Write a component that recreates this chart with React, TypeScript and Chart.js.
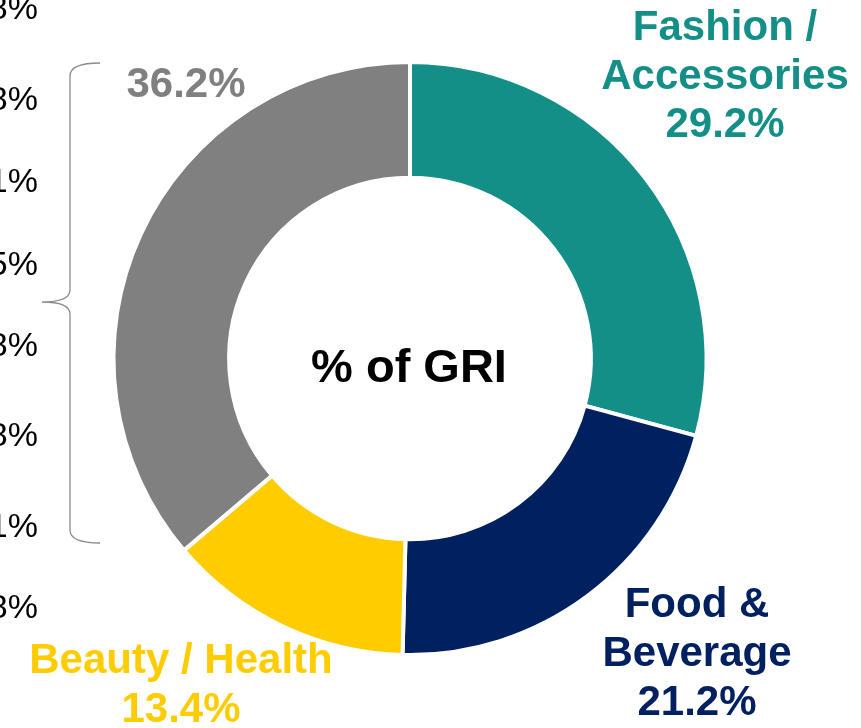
import React, { useEffect, useRef } from "react";
import { Chart, registerables } from "chart.js";

Chart.register(...registerables);

const categories = ["Fashion / Accessories", "Food & Beverage", "Beauty / Health", "Other"];
const values = [29.2, 21.2, 13.4, 36.2];
const sliceColors = ["#148F88", "#002060", "#FFCC00", "#808080"];
const centerTitle = "% of GRI";
const fashionLines = ["Fashion /", "Accessories", "29.2%"];
const foodLines = ["Food &", "Beverage", "21.2%"];
const beautyLines = ["Beauty / Health", "13.4%"];
const otherLines = ["36.2%"];
const sideLabels = ["8%", "8%", "1%", "5%", "8%", "8%", "1%", "8%"];
const sideLabelY = [10, 101, 183, 266, 347, 437, 528, 609];

const labelPlugin = {
  id: "labelPlugin",
  afterDraw(chart: any) {
    const ctx = chart.ctx as CanvasRenderingContext2D;
    ctx.save();
    const font = "bold 42px 'Liberation Sans', Arial, sans-serif";
    const drawLines = (lines: string[], x: number, y0: number, step: number, color: string) => {
      ctx.font = font;
      ctx.fillStyle = color;
      ctx.textAlign = "center";
      ctx.textBaseline = "alphabetic";
      lines.forEach((t, i) => ctx.fillText(t, x, y0 + i * step));
    };
    drawLines(fashionLines, 725, 40, 48.5, sliceColors[0]);
    drawLines(foodLines, 697, 617, 49, sliceColors[1]);
    drawLines(beautyLines, 181, 673, 49, sliceColors[2]);
    drawLines(otherLines, 186, 97, 48, sliceColors[3]);

    ctx.font = "bold 47px 'Liberation Sans', Arial, sans-serif";
    ctx.fillStyle = "#000000";
    ctx.textAlign = "center";
    ctx.fillText(centerTitle, 409, 382);

    ctx.font = "34px 'Liberation Sans', Arial, sans-serif";
    ctx.textAlign = "right";
    ctx.textBaseline = "middle";
    sideLabels.forEach((t, i) => ctx.fillText(t, 38, sideLabelY[i]));

    ctx.beginPath();
    ctx.strokeStyle = "#8C8C8C";
    ctx.lineWidth = 1.3;
    ctx.moveTo(100, 63);
    ctx.quadraticCurveTo(70, 63, 70, 76);
    ctx.lineTo(70, 290);
    ctx.quadraticCurveTo(70, 302, 42, 302);
    ctx.quadraticCurveTo(70, 302, 70, 314);
    ctx.lineTo(70, 530);
    ctx.quadraticCurveTo(70, 543, 100, 543);
    ctx.stroke();
    ctx.restore();
  },
};

export default function App() {
  const ref = useRef<HTMLCanvasElement>(null);
  useEffect(() => {
    if (!ref.current) return;
    const chart = new Chart(ref.current, {
      type: "doughnut",
      data: {
        labels: categories,
        datasets: [
          {
            data: values,
            backgroundColor: sliceColors,
            borderColor: "#FFFFFF",
            borderWidth: 4,
          },
        ],
      },
      options: {
        responsive: false,
        animation: false,
        cutout: "61%",
        layout: { padding: { left: 111, right: 152, top: 60, bottom: 71 } },
        plugins: { legend: { display: false }, tooltip: { enabled: false } },
      },
      plugins: [labelPlugin],
    });
    return () => chart.destroy();
  }, []);
  return (
    <div style={{ position: "fixed", left: 0, top: 0, width: 861, height: 728, background: "#fff" }}>
      <canvas ref={ref} width={861} height={728} />
    </div>
  );
}
